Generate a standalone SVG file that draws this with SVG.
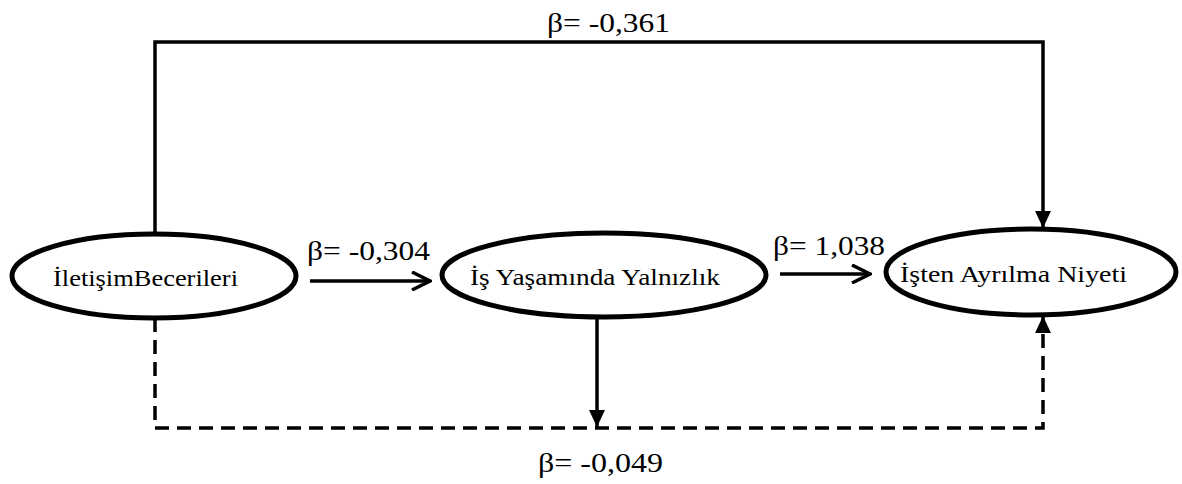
<svg xmlns="http://www.w3.org/2000/svg" width="1182" height="484" viewBox="0 0 1182 484">
<style>
.node{fill:#fff;stroke:#000;stroke-width:5}
.nt{font-family:"Liberation Serif","Times New Roman",serif;font-size:24px;fill:#000}
.lbl{font-family:"Liberation Serif","Times New Roman",serif;font-size:27px;fill:#000}
.ln{fill:none;stroke:#000;stroke-width:3.5}
.dash{fill:none;stroke:#000;stroke-width:3.5;stroke-dasharray:14 8}
</style>
<defs>
<marker id="open" viewBox="0 0 22 20" refX="21" refY="10" markerWidth="22" markerHeight="20" markerUnits="userSpaceOnUse" orient="auto">
<path d="M2,1 L20,10 L2,19" fill="none" stroke="#000" stroke-width="3.5"/>
</marker>
<marker id="fill" viewBox="0 0 17 16" refX="17" refY="8" markerWidth="17" markerHeight="16" markerUnits="userSpaceOnUse" orient="auto">
<path d="M0,0 L17,8 L0,16 Z" fill="#000"/>
</marker>
</defs>
<g id="connectors">
<path class="ln" d="M155,234 V42 H1043 V228" marker-end="url(#fill)"/>
<path class="ln" d="M310,281 H431" marker-end="url(#open)"/>
<path class="ln" d="M780,274 H871" marker-end="url(#open)"/>
<path class="ln" d="M597,318 V427" marker-end="url(#fill)"/>
<path class="dash" d="M155,318 V428 H1043 V316" marker-end="url(#fill)"/>
<text class="lbl" x="307" y="260" textLength="123" lengthAdjust="spacingAndGlyphs">β= -0,304</text>
<text class="lbl" x="773" y="255" textLength="112" lengthAdjust="spacingAndGlyphs">β= 1,038</text>
<text class="lbl" x="547" y="32" textLength="123" lengthAdjust="spacingAndGlyphs">β= -0,361</text>
<text class="lbl" x="538" y="472" textLength="125" lengthAdjust="spacingAndGlyphs">β= -0,049</text>
</g>
<g id="node-iletisim">
<ellipse class="node" cx="154" cy="276" rx="142" ry="42"/>
<text class="nt" x="53" y="286" textLength="185" lengthAdjust="spacingAndGlyphs">İletişimBecerileri</text>
</g>
<g id="node-yalnizlik">
<ellipse class="node" cx="604" cy="275" rx="162" ry="42"/>
<text class="nt" x="470" y="285" textLength="250" lengthAdjust="spacingAndGlyphs">İş Yaşamında Yalnızlık</text>
</g>
<g id="node-ayrilma">
<ellipse class="node" cx="1031" cy="272" rx="145" ry="43"/>
<text class="nt" x="900" y="282" textLength="227" lengthAdjust="spacingAndGlyphs">İşten Ayrılma Niyeti</text>
</g>
</svg>
